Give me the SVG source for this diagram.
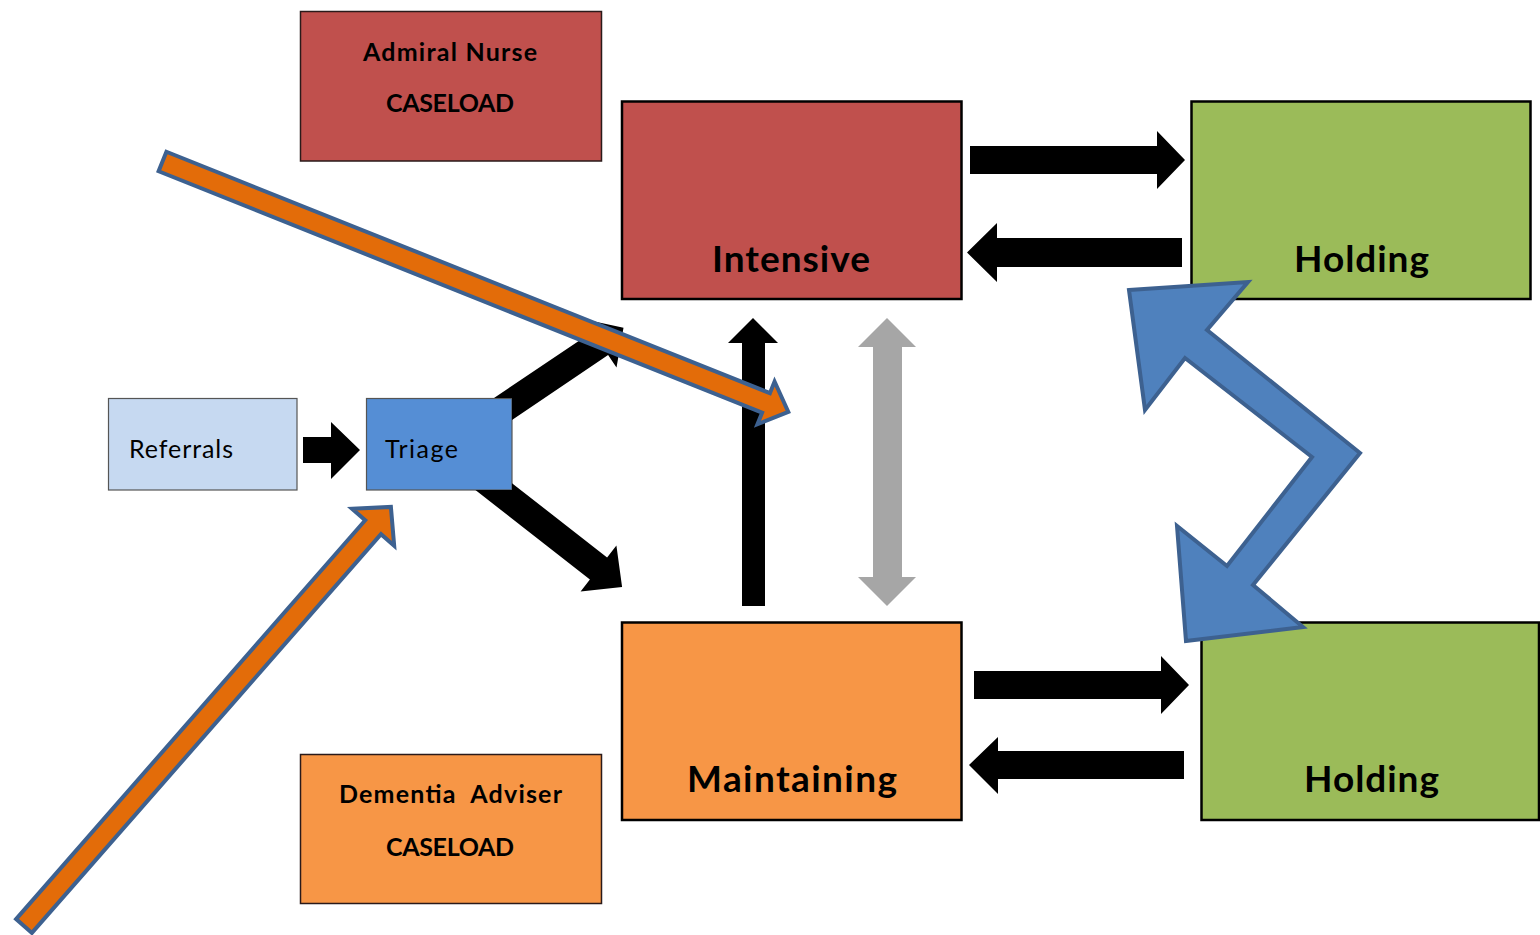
<svg xmlns="http://www.w3.org/2000/svg" width="1540" height="935" viewBox="0 0 1540 935">
<style>
.t{font-family:Lato,"Liberation Sans",sans-serif;fill:#000}
.b{font-weight:bold}
.big{font-size:37px;font-weight:bold;text-anchor:middle}
.mid{font-size:25px;font-weight:bold;text-anchor:middle}
.sm{font-size:25px}
.blk{fill:#000}
.gry{fill:#A6A6A6}
.org{fill:#E36C09;stroke:#3D6190;stroke-width:4;stroke-linejoin:miter}
.blu{fill:#4F81BD;stroke:#3D6190;stroke-width:4;stroke-linejoin:miter}
</style>
<rect width="1540" height="935" fill="#fff"/>
<g id="admiral">
<rect x="300.5" y="11.5" width="301" height="149.5" fill="#C0504D" stroke="#2a1a1a" stroke-width="1.5"/>
<text class="t mid" x="450" y="61" textLength="174">Admiral Nurse</text>
<text class="t mid" x="450" y="112" textLength="128">CASELOAD</text>
</g>
<g id="dementia">
<rect x="300.5" y="754.5" width="301" height="149" fill="#F79646" stroke="#2a1a1a" stroke-width="1.5"/>
<text class="t mid" x="450.5" y="803" textLength="223" xml:space="preserve">Dementia  Adviser</text>
<text class="t mid" x="450" y="856" textLength="128">CASELOAD</text>
</g>
<g id="intensive">
<rect x="622" y="101.5" width="339.5" height="197.5" fill="#C0504D" stroke="#000" stroke-width="2.5"/>
<text class="t big" x="791" y="272" textLength="158">Intensive</text>
</g>
<g id="maintaining">
<rect x="622" y="622.5" width="339.5" height="197.5" fill="#F79646" stroke="#000" stroke-width="2.5"/>
<text class="t big" x="792" y="792" textLength="210">Maintaining</text>
</g>
<g id="holding-top">
<rect x="1191.5" y="101.5" width="339" height="197.5" fill="#9BBB59" stroke="#000" stroke-width="2.5"/>
<text class="t big" x="1361.5" y="272" textLength="135">Holding</text>
</g>
<g id="holding-bottom">
<rect x="1201.5" y="622.5" width="337.5" height="197.5" fill="#9BBB59" stroke="#000" stroke-width="2.5"/>
<text class="t big" x="1371.5" y="792" textLength="135">Holding</text>
</g>
<g id="referrals">
<rect x="108.5" y="398.5" width="188.5" height="91.5" fill="#C6D9F1" stroke="#555" stroke-width="1.2"/>
<text class="t sm" x="129" y="458" textLength="104">Referrals</text>
</g>
<g id="triage">
<rect x="366.5" y="398.5" width="145.5" height="91.5" fill="#558ED5" stroke="#555" stroke-width="1.2"/>
<text class="t sm" x="385" y="458" textLength="73">Triage</text>
</g>
<g id="connectors">
<polygon class="blk" points="303,437 331,437 331,422 360,450 331,479 331,463 303,463"/>
<polygon class="blk" points="494,398 592.5,331.8 584.1,319.3 623.5,327.8 616.5,367.5 608.1,355 512,420 512,398"/>
<polygon class="blk" points="512,483.2 607.1,557.5 616.4,545.6 622.1,587 580.6,591.4 589.9,579.5 475.4,490 512,490"/>
<polygon class="blk" points="742,606 742,343 728,343 753,318 778,343 765,343 765,606"/>
<polygon class="gry" points="873,347 858,347 887,318 916,347 902,347 902,577 916,577 887,606 858,577 873,577"/>
<polygon class="blk" points="970,146 1157,146 1157,131 1185,160 1157,189 1157,174 970,174"/>
<polygon class="blk" points="1182,238 997,238 997,223 967,252.5 997,282 997,267 1182,267"/>
<polygon class="blk" points="974,671 1161,671 1161,656 1189,685 1161,714 1161,699 974,699"/>
<polygon class="blk" points="1184,751 998,751 998,737 969,765 998,794 998,779 1184,779"/>
<polygon class="org" transform="translate(162.5,161.5) rotate(21.8)" points="0,-10.5 650,-10.5 650,-23 674,0 650,23 650,10.5 0,10.5"/>
<polygon class="org" transform="translate(24,926) rotate(-48.8)" points="0,-10.5 530,-10.5 530,-28 557,0 530,28 530,10.5 0,10.5"/>
<polygon class="blu" points="1129,290 1248,282 1207,330 1360,453 1253,585 1303,627 1186,641 1177,526 1227,566 1312,457 1185,358 1145,410"/>
</g>
</svg>
